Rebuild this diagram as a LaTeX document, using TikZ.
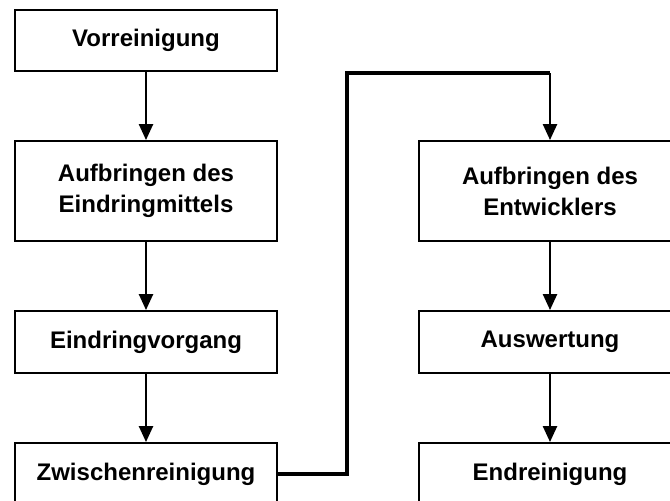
\documentclass[tikz,border=0pt]{standalone}
\usepackage{fontspec}
\setmainfont{Liberation Sans}
\usetikzlibrary{arrows.meta}

\tikzstyle{box} = [draw, line width=1.9pt, minimum width=262pt, align=center, inner sep=0pt,
  font=\fontsize{24}{31}\selectfont\bfseries]
\tikzstyle{arw} = [-{Triangle[width=14pt,length=16pt]}, line width=2.4pt]
\tikzstyle{line} = [line width=3.2pt]

\begin{document}
\begin{tikzpicture}[x=1pt,y=-1pt]
\useasboundingbox (0,0) rectangle (670,501);
\clip (0,0) rectangle (670,501);

\begin{scope}
\node [box, minimum height=61pt] (vor) at (146,40.5) {Vorreinigung};
\node [box, minimum height=100pt] (eindr) at (146,191) {Aufbringen des\\Eindringmittels};
\node [box, minimum height=62pt] (vorg) at (146,342) {Eindringvorgang};
\node [box, minimum height=62pt] (zwi) at (146,474) {Zwischenreinigung};
\node [box, minimum height=100pt] (entw) at (550,191) {Aufbringen des\\Entwicklers};
\node [box, minimum height=62pt] (ausw) at (550,342) {Auswertung};
\node [box, minimum height=62pt] (end) at (550,474) {Endreinigung};
\coordinate (knick) at (347,73);
\coordinate (ecke) at (entw.north |- knick);

\draw[arw] (vor) -- (eindr);
\draw[arw] (eindr) -- (vorg);
\draw[arw] (vorg) -- (zwi);
\draw[line, line join=miter] (zwi.east) -| (knick) -- (ecke);
\draw[arw] (ecke) -- (entw.north);
\draw[arw] (entw) -- (ausw);
\draw[arw] (ausw) -- (end);
\end{scope}
\end{tikzpicture}
\end{document}
